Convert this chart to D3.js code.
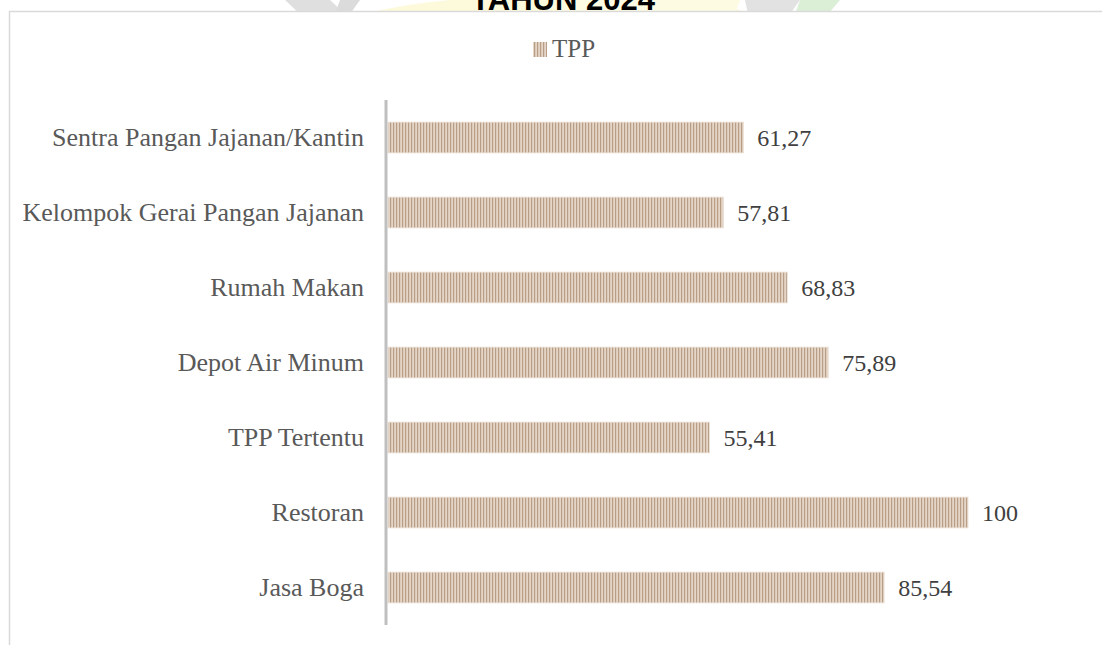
<!DOCTYPE html>
<html>
<head>
<meta charset="utf-8">
<script src="https://cdn.jsdelivr.net/npm/d3@7"></script>
<style>
  html, body { margin: 0; padding: 0; background: #ffffff; }
  svg { display: block; }
</style>
</head>
<body>
<div id="chart"></div>
<script>
// Categories, top to bottom
const categories = [
  "Sentra Pangan Jajanan/Kantin",
  "Kelompok Gerai Pangan Jajanan",
  "Rumah Makan",
  "Depot Air Minum",
  "TPP Tertentu",
  "Restoran",
  "Jasa Boga"
];
// TPP series values
const tppValues = [61.27, 57.81, 68.83, 75.89, 55.41, 100, 85.54];
const valueLabels = ["61,27", "57,81", "68,83", "75,89", "55,41", "100", "85,54"];
const seriesName = "TPP";
const titleText = "TAHUN 2024";

const W = 1102, H = 645;
const svg = d3.select("#chart").append("svg")
  .attr("width", W).attr("height", H);

const defs = svg.append("defs");
const pat = defs.append("pattern")
  .attr("id", "stripes")
  .attr("patternUnits", "userSpaceOnUse")
  .attr("width", 3).attr("height", 10);
pat.append("rect").attr("width", 3).attr("height", 10).attr("fill", "#e5d5c7");
pat.append("rect").attr("x", 0).attr("width", 1.2).attr("height", 10).attr("fill", "#b99e87");

// Faint emblem behind the heading strip
const wm = svg.append("g").attr("opacity", 0.4);
wm.append("ellipse").attr("cx", 560).attr("cy", 40).attr("rx", 240).attr("ry", 45).attr("fill", "#fbf3a8");
wm.append("path").attr("d", "M285,0 L330,0 L345,14 L300,14 Z").attr("fill", "#b0b0b0");
wm.append("path").attr("d", "M340,0 L360,0 L350,14 L335,14 Z").attr("fill", "#a8a8a8");
wm.append("path").attr("d", "M745,0 L800,0 L790,14 L748,14 Z").attr("fill", "#b8b8b8");
wm.append("path").attr("d", "M800,0 L840,0 L828,14 L795,14 Z").attr("fill", "#a8d89a");
wm.append("path").attr("d", "M555,0 L740,0 L735,14 L560,14 Z").attr("fill", "#fbf6b8");

// Heading (partly hidden under the plot frame)
svg.append("text")
  .attr("x", 563).attr("y", 10)
  .attr("text-anchor", "middle")
  .attr("font-family", "Liberation Sans, Arial, sans-serif")
  .attr("font-weight", "bold")
  .attr("font-size", 31)
  .attr("fill", "#000000")
  .text(titleText);

// Chart frame
svg.append("rect")
  .attr("x", 9.5).attr("y", 11.5)
  .attr("width", W + 10).attr("height", H + 10)
  .attr("fill", "#ffffff")
  .attr("stroke", "#d9d9d9").attr("stroke-width", 1.5);

const x = d3.scaleLinear().domain([0, 100]).range([388, 968]);
const y = d3.scaleBand().domain(categories).range([100, 625]).paddingInner(0.59).paddingOuter(0.295);

// Legend
const legend = svg.append("g");
legend.append("rect").attr("x", 533).attr("y", 42).attr("width", 14).attr("height", 15)
  .attr("fill", "url(#stripes)");
legend.append("text").attr("x", 552).attr("y", 57)
  .attr("font-family", "Liberation Serif, Times New Roman, serif")
  .attr("font-size", 25).attr("fill", "#595959")
  .text(seriesName);

// Bars
svg.append("g").selectAll("rect")
  .data(tppValues)
  .join("rect")
  .attr("x", x(0))
  .attr("y", (d, i) => y(categories[i]))
  .attr("width", d => x(d) - x(0))
  .attr("height", y.bandwidth())
  .attr("fill", "url(#stripes)")
  .attr("stroke", "#eadfd4").attr("stroke-width", 0.8);

// Value labels
svg.append("g").selectAll("text")
  .data(tppValues)
  .join("text")
  .attr("x", d => x(d) + 14)
  .attr("y", (d, i) => y(categories[i]) + y.bandwidth() / 2)
  .attr("dy", "0.35em")
  .attr("font-family", "Liberation Serif, Times New Roman, serif")
  .attr("font-size", 24)
  .attr("fill", "#404040")
  .text((d, i) => valueLabels[i]);

// Category axis
const axis = d3.axisLeft(y).tickSize(0).tickPadding(22);
const gAxis = svg.append("g").attr("transform", `translate(${386},0)`).call(axis);
gAxis.select(".domain").attr("stroke", "#bfbfbf").attr("stroke-width", 3)
  .attr("d", "M0,100V625");
gAxis.selectAll("text")
  .attr("font-family", "Liberation Serif, Times New Roman, serif")
  .attr("font-size", 26)
  .attr("fill", "#595959");
</script>
</body>
</html>
